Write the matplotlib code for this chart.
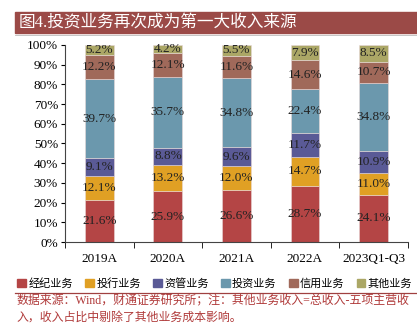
import numpy as np
import matplotlib.pyplot as plt
from matplotlib.patches import Rectangle
from matplotlib.lines import Line2D

plt.rcParams['font.family'] = ['Liberation Serif', 'Noto Sans CJK SC', 'DejaVu Sans']

# data (percent of revenue)
years = ['2019A', '2020A', '2021A', '2022A', '2023Q1-Q3']
brokerage = [21.6, 25.9, 26.6, 28.7, 24.1]
ibanking = [12.1, 13.2, 12.0, 14.7, 11.0]
asset_mgmt = [9.1, 8.8, 9.6, 11.7, 10.9]
investment = [39.7, 35.7, 34.8, 22.4, 34.8]
credit = [12.2, 12.1, 11.6, 14.6, 10.7]
other = [5.2, 4.2, 5.5, 7.9, 8.5]

series = [brokerage, ibanking, asset_mgmt, investment, credit, other]
names = ['经纪业务', '投行业务', '资管业务', '投资业务', '信用业务', '其他业务']
colors = ['#B44545', '#E0A024', '#5A5A96', '#6B98AD', '#A0695A', '#ABA766']

fig = plt.figure(figsize=(4.17, 3.25), dpi=100)
ax = fig.add_axes([0.156, 0.255, 0.822, 0.607])

x = np.arange(len(years))
bottom = np.zeros(len(years))
for vals, c in zip(series, colors):
    vals = np.array(vals)
    ax.bar(x, vals, 0.42, bottom=bottom, color=c, edgecolor='#E8D8D8', linewidth=0.4)
    for xi, b, v in zip(x, bottom, vals):
        ax.text(xi, b + v / 2, f'{v:.1f}%', ha='center', va='center', fontsize=9.5, color='#222222')
    bottom += vals

ax.set_xlim(-0.5, len(years) - 0.5)
ax.set_ylim(0, 100)
ax.set_yticks(np.arange(0, 101, 10))
ax.set_yticklabels([f'{t}%' for t in range(0, 101, 10)], fontsize=9.5)
ax.set_xticks(x)
ax.set_xticklabels(years, fontsize=9.5)
ax.set_xticks(np.arange(-0.5, len(years), 1), minor=True)
ax.tick_params(axis='x', which='major', length=0, pad=8)
ax.tick_params(axis='x', which='minor', length=4, direction='out')
ax.tick_params(axis='y', length=3, direction='out', pad=2)
for s in ['top', 'right']:
    ax.spines[s].set_visible(False)
ax.spines['left'].set_color('#444444')
ax.spines['bottom'].set_color('#444444')

# legend
handles = [Rectangle((0, 0), 1, 1, color=c) for c in colors]
fig.legend(handles, names, loc='center', bbox_to_anchor=(0.515, 0.128), ncol=6, frameon=False,
           fontsize=8, handlelength=0.8, handleheight=0.8, handletextpad=0.2, columnspacing=1.1)

# title bar
fig.patches.append(Rectangle((0.036, 0.898), 0.964, 0.065, transform=fig.transFigure,
                             color='#9B4A47', zorder=0))
fig.text(0.045, 0.930, '图4.投资业务再次成为第一大收入来源', color='white', fontsize=12,
         va='center', ha='left')
fig.lines.append(Line2D([0.036, 1.0], [0.893, 0.893], transform=fig.transFigure,
                        color='#BBBBBB', linewidth=0.6))

# source note
fig.lines.append(Line2D([0.036, 1.0], [0.098, 0.098], transform=fig.transFigure,
                        color='#A04040', linewidth=0.9))
fig.text(0.04, 0.074, '数据来源：Wind，财通证券研究所；注：其他业务收入=总收入-五项主营收',
         color='#B03A3A', fontsize=8.6, va='center', ha='left')
fig.text(0.04, 0.024, '入，收入占比中剔除了其他业务成本影响。',
         color='#B03A3A', fontsize=8.6, va='center', ha='left')

fig.savefig('out.png', dpi=100)
